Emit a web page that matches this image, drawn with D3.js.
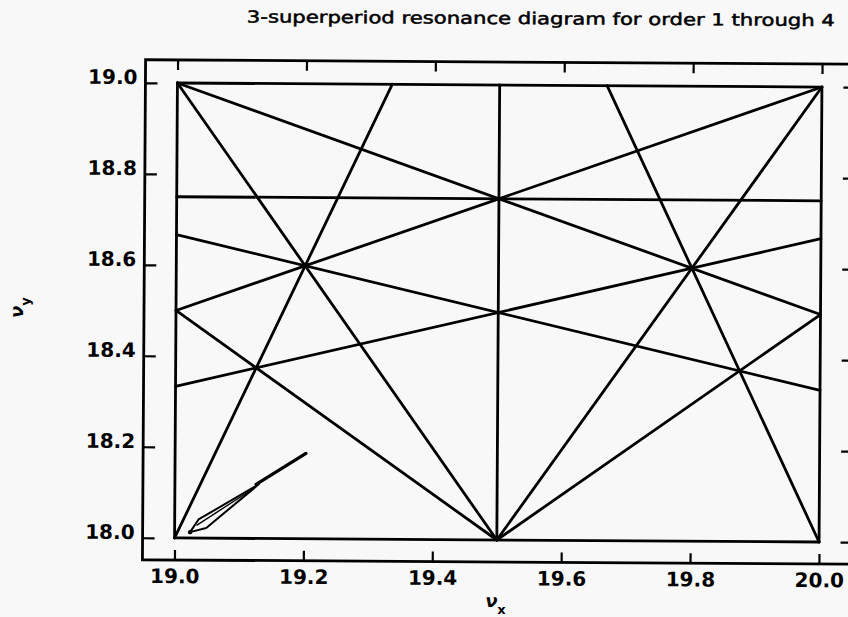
<!DOCTYPE html>
<html><head><meta charset="utf-8">
<script src="https://cdn.jsdelivr.net/npm/d3@7"></script>
<style>
html,body{margin:0;padding:0;background:#f8f8f8;}
svg{display:block;}
</style></head><body>
<svg id="chart" width="848" height="617"></svg>
<script>
const titleText = "3-superperiod  resonance  diagram  for  order  1  through  4";
const xTicks = [19.0, 19.2, 19.4, 19.6, 19.8, 20.0];
const yTicks = [18.0, 18.2, 18.4, 18.6, 18.8, 19.0];

// Resonance lines m·νx + n·νy = p (orders 1–4, p a multiple of 3) inside the tune window
const resonanceLabels = ["νy=18", "3νy=57", "3νx=57", "3νx=60", "2νx=39", "4νy=75",
  "νx+2νy=57", "−νx+2νy=18", "2νx+νy=57", "2νx−νy=21", "3νx−νy=39", "3νx+νy=78",
  "νx+3νy=75", "−νx+3νy=36", "2νx+2νy=75", "2νx−2νy=3"];
const startNux = [19, 19, 19, 20, 19.5, 19, 19, 19, 19, 19.5, 19, 19.6667, 19, 19, 19, 19.5];
const startNuy = [18, 19, 18, 18, 18, 18.75, 19, 18.5, 19, 18, 18, 19, 18.6667, 18.3333, 18.5, 18];
const endNux = [20, 20, 19, 20, 19.5, 20, 20, 20, 19.5, 20, 19.3333, 20, 20, 20, 19.5, 20];
const endNuy = [18, 19, 19, 19, 19, 18.75, 18.5, 19, 18, 19, 19, 18, 18.3333, 18.6667, 18, 18.5];

// Working-point trace near the lower-left corner
const traceOutlineNux = [19.024, 19.037, 19.130, 19.049];
const traceOutlineNuy = [18.013, 18.041, 18.119, 18.0225];
const traceCoreNux = [19.034, 19.119];
const traceCoreNuy = [18.028, 18.107];
const traceTailNux = [19.126, 19.203];
const traceTailNuy = [18.119, 18.1875];

const svg = d3.select("#chart");
const root = svg.append("g").attr("transform", "rotate(0.36, 498, 312)");

const x = d3.scaleLinear().domain([19, 20]).range([176, 820.5]);
const y = d3.scaleLinear().domain([18, 19]).range([540, 85]);
const frame = {left: 144, right: 854, top: 62, bottom: 562};
const ink = "#000";
const fontFamily = "'DejaVu Sans', sans-serif";

// Title
root.append("text")
  .attr("x", 245).attr("y", 24)
  .attr("textLength", 588).attr("lengthAdjust", "spacingAndGlyphs")
  .attr("font-family", fontFamily).attr("font-size", 16.5)
  .attr("fill", ink).attr("stroke", ink).attr("stroke-width", 0.5)
  .text(titleText);

// Outer frame
root.append("rect")
  .attr("x", frame.left).attr("y", frame.top)
  .attr("width", frame.right - frame.left).attr("height", frame.bottom - frame.top)
  .attr("fill", "none").attr("stroke", ink).attr("stroke-width", 2.8);

function styleAxis(g) {
  g.select(".domain").remove();
  g.selectAll(".tick line").attr("stroke", ink).attr("stroke-width", 2.2);
  g.selectAll(".tick text")
    .attr("fill", ink)
    .style("font-family", fontFamily)
    .style("font-size", "20px")
    .style("font-weight", "bold");
}

const fmt = d3.format(".1f");
root.append("g").attr("transform", `translate(0,${frame.bottom})`)
  .call(d3.axisBottom(x).tickValues(xTicks).tickSize(-10).tickPadding(9).tickFormat(fmt))
  .call(styleAxis);
root.append("g").attr("transform", `translate(0,${frame.top})`)
  .call(d3.axisTop(x).tickValues(xTicks).tickSize(-10).tickFormat(""))
  .call(styleAxis);
root.append("g").attr("transform", `translate(${frame.left},0)`)
  .call(d3.axisLeft(y).tickValues(yTicks).tickSize(-12).tickPadding(8).tickFormat(fmt))
  .call(styleAxis)
  .selectAll(".tick text").attr("dy", "0.04em");
root.append("g").attr("transform", `translate(${frame.right},0)`)
  .call(d3.axisRight(y).tickValues(yTicks).tickSize(-12).tickFormat(""))
  .call(styleAxis);

// Resonance lines
root.append("g").selectAll("line")
  .data(resonanceLabels.map((label, i) => ({label, x0: startNux[i], y0: startNuy[i], x1: endNux[i], y1: endNuy[i]})))
  .join("line")
  .attr("x1", d => x(d.x0)).attr("y1", d => y(d.y0))
  .attr("x2", d => x(d.x1)).attr("y2", d => y(d.y1))
  .attr("stroke", ink).attr("stroke-width", 2.8).attr("stroke-linecap", "round");

// Trace
const toPts = (xs, ys) => xs.map((v, i) => [x(v), y(ys[i])]);
const trace = root.append("g");
trace.append("path")
  .attr("d", d3.line()(toPts(traceOutlineNux, traceOutlineNuy)) + "Z")
  .attr("fill", "none").attr("stroke", ink).attr("stroke-width", 2).attr("stroke-linejoin", "round");
trace.append("path")
  .attr("d", d3.line()(toPts(traceCoreNux, traceCoreNuy)))
  .attr("stroke", ink).attr("stroke-width", 1.4);
trace.append("path")
  .attr("d", d3.line()(toPts(traceTailNux, traceTailNuy)))
  .attr("stroke", ink).attr("stroke-width", 3.2).attr("stroke-linecap", "round");
trace.append("circle")
  .attr("cx", x(traceOutlineNux[0])).attr("cy", y(traceOutlineNuy[0])).attr("r", 2.2).attr("fill", ink);

// Axis titles
const xt = root.append("text").attr("x", 487).attr("y", 607)
  .attr("font-family", fontFamily).attr("fill", ink);
xt.append("tspan").attr("font-size", 18).attr("font-style", "italic").attr("font-weight", "bold").text("ν");
xt.append("tspan").attr("font-size", 13).attr("font-weight", "bold").attr("dy", 7).text("x");

const yt = root.append("text").attr("transform", "translate(23,321) rotate(-90)")
  .attr("font-family", fontFamily).attr("fill", ink);
yt.append("tspan").attr("font-size", 18).attr("font-style", "italic").attr("font-weight", "bold").text("ν");
yt.append("tspan").attr("font-size", 13).attr("font-weight", "bold").attr("dy", 7).text("y");
</script>
</body></html>
